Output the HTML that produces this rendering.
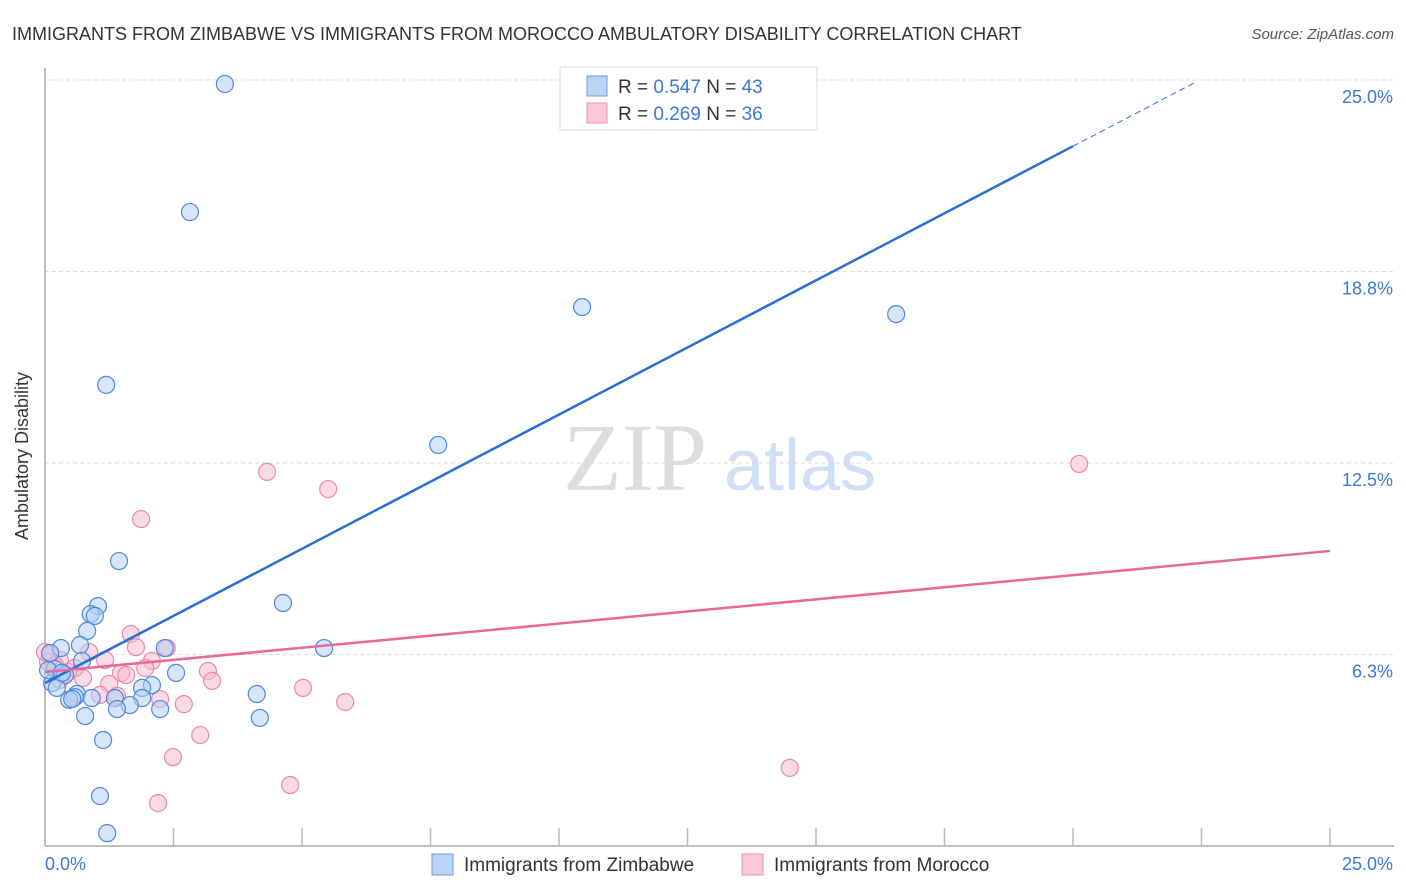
<!DOCTYPE html>
<html><head><meta charset="utf-8"><style>
body{margin:0;background:#fff;font-family:"Liberation Sans",sans-serif;}
svg{display:block}
</style></head><body>
<svg id="chart" width="1406" height="892" xmlns="http://www.w3.org/2000/svg">
<text x="12" y="40" font-size="18" fill="#333">IMMIGRANTS FROM ZIMBABWE VS IMMIGRANTS FROM MOROCCO AMBULATORY DISABILITY CORRELATION CHART</text>
<text x="1394" y="39" font-size="15" fill="#555" font-style="italic" text-anchor="end">Source: ZipAtlas.com</text>
<g>
<text x="635" y="490" font-size="96" fill="#ddd" font-family="Liberation Serif,serif" text-anchor="middle">ZIP</text>
<text x="800" y="490" font-size="72" fill="#cfdff5" text-anchor="middle">atlas</text>
</g>
<g id="grid"></g>
<line x1="45" y1="68" x2="45" y2="846" stroke="#aaa" stroke-width="1.5"/>
<line x1="45" y1="846" x2="1394" y2="846" stroke="#aaa" stroke-width="1.5"/>
<g id="xticks"></g>
<g id="points"></g>
<g id="trends"></g>
<text x="28" y="456" font-size="18" fill="#333" text-anchor="middle" transform="rotate(-90 28 456)">Ambulatory Disability</text>
<text x="45" y="870" font-size="18" fill="#3b78d8">0.0%</text>
<text x="1393" y="870" font-size="18" fill="#3b78d8" text-anchor="end">25.0%</text>
<g>
<rect x="560" y="67" width="257" height="63" fill="#fff" stroke="#ddd"/>
<rect x="587" y="76" width="20" height="20" fill="#bcd4f4" stroke="#6b9be0"/>
<text x="618" y="93" font-size="19" fill="#333">R = <tspan fill="#3b78d8">0.547</tspan>   N = <tspan fill="#3b78d8">43</tspan></text>
<rect x="587" y="103" width="20" height="20" fill="#f9c9d8" stroke="#ec8fae"/>
<text x="618" y="120" font-size="19" fill="#333">R = <tspan fill="#3b78d8">0.269</tspan>   N = <tspan fill="#3b78d8">36</tspan></text>
</g>
<g>
<rect x="432" y="854" width="21" height="21" fill="#bcd4f4" stroke="#6b9be0"/>
<text x="464" y="871" font-size="19" fill="#333">Immigrants from Zimbabwe</text>
<rect x="742" y="854" width="21" height="21" fill="#f9c9d8" stroke="#ec8fae"/>
<text x="774" y="871" font-size="19" fill="#333">Immigrants from Morocco</text>
</g>
</svg>
<script>
const yTicks=[6.25,12.5,18.75,25];
const yTickLabels=["6.3%","12.5%","18.8%","25.0%"];
const xTicks=[2.5,5,7.5,10,12.5,15,17.5,20,22.5,25];
const zimX=[3.50,2.82,10.45,16.56,1.19,7.65,1.44,4.63,1.03,0.89,0.97,0.82,5.43,2.33,0.68,0.31,0.10,0.72,2.55,0.19,0.39,0.14,0.23,2.08,1.89,0.62,0.58,0.47,0.53,0.91,1.89,4.12,1.36,1.65,1.40,2.24,0.78,4.18,1.13,1.07,1.21,0.06,0.33];
const zimY=[24.87,20.69,17.59,17.36,15.05,13.09,9.30,7.93,7.83,7.57,7.51,7.02,6.46,6.46,6.56,6.46,6.30,6.04,5.65,5.78,5.58,5.32,5.16,5.25,5.16,4.96,4.86,4.77,4.80,4.83,4.83,4.96,4.83,4.60,4.47,4.47,4.24,4.18,3.46,1.63,0.42,5.74,5.65];
const morX=[20.12,4.32,5.51,1.87,1.67,2.37,1.77,0.86,2.08,1.17,0.29,0.10,1.95,3.17,1.48,1.58,0.74,0.45,3.25,1.25,5.02,1.07,1.40,2.24,2.70,5.84,3.02,2.49,14.49,4.77,2.20,0.19,0.58,0.06,0.29,0.0];
const morY=[12.47,12.21,11.65,10.67,6.92,6.46,6.49,6.33,6.04,6.07,6.07,6.23,5.81,5.71,5.65,5.58,5.48,5.68,5.39,5.29,5.16,4.93,4.90,4.80,4.63,4.70,3.62,2.90,2.55,1.99,1.40,5.91,5.81,6.01,5.42,6.33];
const zimTrend=[5.32,0.876];
const morTrend=[5.68,0.158];
const NS="http://www.w3.org/2000/svg";
const X=v=>45+v*51.4, Y=v=>846-v*30.64;
function mk(tag,attrs,parent){const e=document.createElementNS(NS,tag);for(const k in attrs)e.setAttribute(k,attrs[k]);document.getElementById(parent).appendChild(e);return e;}
yTicks.forEach((t,i)=>{
 const l=mk('line',{x1:45,x2:1394,y1:Y(t),y2:Y(t),stroke:'#ddd','stroke-dasharray':'4,3'},'grid');
 
 
 const tx=mk('text',{x:1393,y:Y(t)+23,'font-size':18,fill:'#3b78d8','text-anchor':'end'},'grid');
 tx.textContent=yTickLabels[i];
 
 
});
xTicks.forEach(t=>{
 const l=mk('line',{x1:X(t),x2:X(t),y1:828,y2:846,stroke:'#bbb','stroke-width':1.5},'xticks');
 
 
});
function pts(xs,ys,fill,stroke,name){xs.forEach((x,i)=>{
 const c=mk('circle',{cx:X(x),cy:Y(ys[i]),r:8.5,fill:fill,'fill-opacity':0.55,stroke:stroke,'stroke-width':1.2},'points');
 
 
});}
pts(morX,morY,'#f7bcd0','#e98aaa','point-morocco');
pts(zimX,zimY,'#b5cff2','#4f88dc','point-zimbabwe');
let l=mk('line',{x1:X(0),y1:Y(zimTrend[0]),x2:X(20),y2:Y(zimTrend[0]+zimTrend[1]*20),stroke:'#2a6fd6','stroke-width':2.5},'trends');


l=mk('line',{x1:X(20),y1:Y(zimTrend[0]+zimTrend[1]*20),x2:X(22.37),y2:Y(zimTrend[0]+zimTrend[1]*22.37),stroke:'#2a6fd6','stroke-width':1,'stroke-dasharray':'6,4'},'trends');


l=mk('line',{x1:X(0),y1:Y(morTrend[0]),x2:X(25),y2:Y(morTrend[0]+morTrend[1]*25),stroke:'#e8689a','stroke-width':2.5},'trends');


</script>
</body></html>
